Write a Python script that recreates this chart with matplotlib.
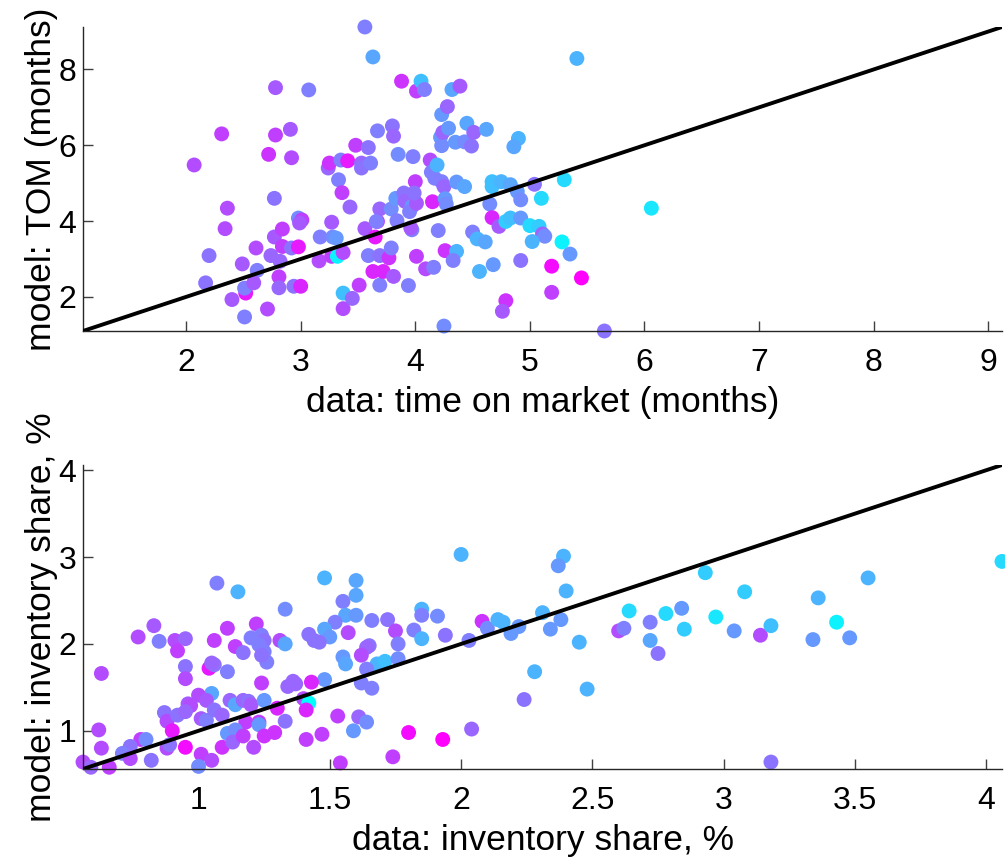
import numpy as np
import matplotlib
matplotlib.use('Agg')
import matplotlib.pyplot as plt

plt.rcParams['font.family'] = ['Liberation Sans', 'DejaVu Sans']

# time on market: data (x), model (y), colour value (0 = cyan, 1 = magenta)
tom_data = [2.07, 2.31, 2.36, 2.34, 2.20, 2.17, 2.40, 2.49, 2.52, 2.51, 2.51, 2.61, 2.62, 2.59, 2.71,
            2.72, 2.78, 2.78, 2.77, 2.77, 2.84, 2.74, 2.84, 2.82, 2.81, 2.81, 2.91, 2.92, 2.94, 3.00,
            2.92, 2.98, 2.98, 3.01, 2.99, 3.07, 3.16, 3.17, 3.24, 3.25, 3.27, 3.28, 3.31, 3.27, 3.32,
            3.37, 3.33, 3.35, 3.41, 3.36, 3.37, 3.37, 3.43, 3.45, 3.48, 3.51, 3.56, 3.53, 3.53, 3.59,
            3.61, 3.63, 3.56, 3.59, 3.63, 3.65, 3.69, 3.67, 3.66, 3.69, 3.69, 3.72, 3.67, 3.77, 3.79,
            3.81, 3.80, 3.81, 3.79, 3.83, 3.85, 3.88, 3.84, 3.90, 3.94, 3.91, 3.97, 3.95, 3.97, 3.96,
            3.98, 4.00, 4.01, 4.01, 3.99, 4.01, 4.05, 4.08, 4.09, 4.16, 4.13, 4.14, 4.15, 4.17, 4.19,
            4.20, 4.23, 4.22, 4.23, 4.25, 4.26, 4.23, 4.25, 4.28, 4.24, 4.29, 4.32, 4.39, 4.26, 4.27,
            4.36, 4.33, 4.35, 4.36, 4.43, 4.45, 4.43, 4.49, 4.51, 4.62, 4.50, 4.54, 4.61, 4.56, 4.68,
            4.65, 4.67, 4.73, 4.79, 4.83, 4.92, 4.67, 4.67, 4.75, 4.83, 4.89, 4.92, 4.90, 4.86, 5.04,
            5.30, 5.10, 5.00, 5.08, 5.11, 5.13, 5.02, 5.28, 5.35, 4.92, 5.19, 5.45, 5.19, 4.79, 4.76,
            5.65, 6.06, 5.41]
tom_model = [5.48, 6.30, 4.34, 3.80, 3.09, 2.37, 1.93, 2.87, 2.10, 2.23, 1.47, 3.29, 2.70, 2.37, 1.68,
             5.76, 7.52, 6.27, 4.60, 3.58, 3.79, 3.09, 3.33, 2.94, 2.53, 2.24, 6.42, 5.67, 2.28, 2.28,
             3.29, 3.32, 4.08, 4.03, 3.95, 7.46, 2.95, 3.58, 5.40, 5.53, 3.97, 3.58, 3.55, 3.07, 3.07,
             3.17, 5.09, 5.61, 5.59, 4.75, 1.69, 2.10, 4.37, 1.96, 6.00, 2.31, 9.12, 5.53, 5.40, 5.94,
             5.53, 8.33, 3.80, 3.09, 2.67, 3.58, 4.32, 3.99, 3.99, 3.09, 2.31, 2.67, 6.38, 3.03, 3.29,
             2.54, 6.51, 6.24, 4.32, 4.60, 5.76, 7.69, 4.01, 4.74, 2.30, 4.52, 4.38, 4.25, 3.77, 3.82,
             5.70, 5.04, 3.07, 4.47, 4.74, 7.43, 7.69, 7.47, 2.74, 2.78, 5.61, 5.29, 4.51, 5.13, 5.48,
             3.75, 6.81, 6.21, 5.99, 1.23, 3.22, 5.04, 4.91, 7.02, 6.34, 6.45, 7.47, 7.56, 4.59, 4.45,
             3.20, 2.96, 6.08, 5.03, 4.91, 6.58, 6.09, 5.98, 6.34, 6.42, 3.71, 3.53, 3.45, 2.67, 2.85,
             4.45, 4.09, 3.86, 3.99, 4.08, 4.08, 5.04, 4.91, 5.04, 4.96, 4.78, 4.56, 6.18, 5.96, 4.97,
             5.09, 4.60, 3.88, 3.86, 3.66, 3.60, 3.46, 3.45, 3.13, 2.96, 2.81, 2.50, 2.12, 1.90, 1.62,
             1.10, 4.34, 8.29]
tom_c = [0.70, 0.75, 0.70, 0.70, 0.55, 0.55, 0.65, 0.65, 0.90, 0.50, 0.50, 0.70, 0.50, 0.65, 0.70,
         0.80, 0.65, 0.75, 0.55, 0.65, 0.75, 0.60, 0.75, 0.60, 0.75, 0.60, 0.65, 0.70, 0.55, 0.85,
         0.55, 0.90, 0.45, 0.75, 0.65, 0.50, 0.70, 0.50, 0.60, 0.80, 0.65, 0.45, 0.40, 0.75, 0.05,
         0.70, 0.50, 0.50, 0.90, 0.75, 0.70, 0.25, 0.60, 0.60, 0.75, 0.75, 0.50, 0.60, 0.55, 0.55,
         0.50, 0.35, 0.65, 0.50, 0.85, 0.90, 0.60, 0.70, 0.50, 0.55, 0.50, 0.85, 0.50, 0.80, 0.50,
         0.65, 0.55, 0.60, 0.45, 0.40, 0.45, 0.80, 0.50, 0.55, 0.50, 0.60, 0.40, 0.50, 0.50, 0.65,
         0.50, 0.75, 0.75, 0.65, 0.55, 0.75, 0.25, 0.50, 0.70, 0.50, 0.70, 0.50, 0.85, 0.50, 0.30,
         0.50, 0.40, 0.40, 0.45, 0.45, 0.80, 0.50, 0.60, 0.60, 0.60, 0.40, 0.35, 0.65, 0.40, 0.45,
         0.30, 0.50, 0.40, 0.40, 0.35, 0.35, 0.45, 0.55, 0.60, 0.35, 0.50, 0.30, 0.35, 0.30, 0.40,
         0.45, 0.85, 0.65, 0.20, 0.25, 0.40, 0.25, 0.25, 0.30, 0.35, 0.40, 0.45, 0.30, 0.35, 0.55,
         0.15, 0.15, 0.15, 0.20, 0.60, 0.45, 0.30, 0.05, 0.40, 0.55, 0.95, 1.00, 0.75, 0.80, 0.65,
         0.55, 0.10, 0.30]

# inventory share: data (x), model (y), colour value
inv_data = [1.07, 1.15, 1.33, 0.83, 0.77, 0.85, 1.22, 1.11, 0.91, 0.95, 1.06, 0.92, 1.14, 1.17, 1.20,
            1.24, 1.25, 1.23, 1.25, 1.26, 1.24, 1.31, 1.33, 0.63, 0.95, 0.95, 1.04, 1.06, 1.11, 1.24,
            1.34, 1.36, 1.05, 1.00, 1.03, 0.96, 0.97, 0.87, 0.88, 0.92, 0.95, 1.01, 1.03, 1.06, 1.09,
            1.12, 1.14, 1.17, 1.19, 1.20, 1.25, 1.23, 1.18, 0.90, 0.62, 0.63, 0.78, 0.80, 0.74, 0.71,
            0.74, 0.82, 0.88, 0.89, 0.95, 1.01, 1.05, 1.09, 1.00, 1.11, 1.14, 1.13, 1.17, 1.21, 1.23,
            1.25, 1.29, 1.30, 1.33, 0.56, 0.59, 0.66, 1.05, 2.00, 1.48, 1.60, 1.60, 1.55, 1.56, 1.60,
            1.52, 1.48, 1.50, 1.42, 1.44, 1.46, 1.57, 1.66, 1.72, 1.75, 1.76, 1.85, 1.85, 1.91, 1.82,
            1.85, 1.94, 2.03, 2.08, 2.10, 2.14, 2.16, 2.19, 2.22, 1.65, 1.64, 1.62, 1.55, 1.56, 1.68,
            1.71, 1.76, 1.64, 1.62, 1.66, 1.48, 1.43, 1.37, 1.40, 1.42, 1.41, 1.53, 1.61, 1.64, 1.59,
            1.41, 1.47, 1.54, 1.74, 1.80, 1.93, 2.04, 2.24, 2.39, 2.37, 2.40, 2.31, 2.38, 2.34, 2.45,
            2.28, 2.48, 2.64, 2.60, 2.62, 2.72, 2.72, 2.75, 2.78, 2.84, 2.85, 2.93, 2.97, 3.04, 3.08,
            3.14, 3.18, 3.18, 3.34, 3.36, 3.43, 3.48, 3.55, 4.06]
inv_model = [2.70, 2.60, 2.40, 2.21, 2.08, 2.03, 2.23, 2.18, 2.04, 2.06, 2.04, 1.92, 1.97, 1.90, 2.07,
             2.10, 2.04, 1.99, 1.91, 1.79, 1.87, 2.04, 2.00, 1.66, 1.74, 1.60, 1.72, 1.76, 1.68, 1.55,
             1.51, 1.57, 1.43, 1.41, 1.35, 1.31, 1.29, 1.21, 1.11, 1.18, 1.22, 1.14, 1.12, 1.24, 1.18,
             1.35, 1.30, 1.35, 1.34, 1.30, 1.35, 1.10, 1.10, 1.00, 1.01, 0.80, 0.90, 0.90, 0.82, 0.74,
             0.68, 0.66, 0.80, 0.84, 0.81, 0.73, 0.66, 0.81, 0.59, 0.97, 1.01, 0.87, 0.94, 0.81, 1.07,
             0.94, 0.98, 1.26, 1.11, 0.64, 0.58, 0.58, 1.78, 3.03, 2.76, 2.73, 2.56, 2.49, 2.33, 2.33,
             2.25, 2.17, 2.08, 2.11, 2.04, 2.02, 2.13, 2.27, 2.28, 2.15, 2.00, 2.40, 2.33, 2.32, 2.16,
             2.06, 2.10, 2.04, 2.26, 2.18, 2.28, 2.25, 2.12, 2.20, 1.98, 1.96, 1.87, 1.85, 1.77, 1.77,
             1.80, 1.83, 1.71, 1.55, 1.49, 1.59, 1.56, 1.54, 1.37, 1.32, 1.24, 1.17, 1.16, 1.10, 1.00,
             0.90, 0.96, 0.63, 0.70, 0.98, 0.90, 1.02, 1.36, 3.01, 2.90, 2.61, 2.36, 2.28, 2.17, 2.02,
             1.68, 1.48, 2.38, 2.15, 2.18, 2.25, 2.04, 1.89, 2.35, 2.41, 2.17, 2.82, 2.31, 2.15, 2.60,
             2.10, 2.21, 0.64, 2.05, 2.53, 2.25, 2.07, 2.76, 2.95]
inv_c = [0.50, 0.30, 0.45, 0.65, 0.70, 0.50, 0.75, 0.75, 0.70, 0.60, 0.75, 0.75, 0.75, 0.55, 0.50,
         0.50, 0.55, 0.50, 0.50, 0.50, 0.55, 0.70, 0.35, 0.70, 0.55, 0.70, 0.90, 0.55, 0.50, 0.75,
         0.60, 0.60, 0.35, 0.70, 0.65, 0.65, 0.70, 0.55, 0.70, 0.55, 0.60, 0.65, 0.50, 0.55, 0.60,
         0.60, 0.35, 0.60, 0.55, 0.65, 0.40, 0.75, 0.75, 0.90, 0.70, 0.70, 0.75, 0.45, 0.55, 0.50,
         0.70, 0.55, 0.70, 0.55, 0.95, 0.75, 0.70, 0.80, 0.45, 0.40, 0.45, 0.60, 0.75, 0.70, 0.40,
         0.80, 0.80, 0.85, 0.55, 0.70, 0.60, 0.75, 0.60, 0.30, 0.30, 0.35, 0.35, 0.50, 0.35, 0.40,
         0.50, 0.35, 0.40, 0.55, 0.55, 0.55, 0.70, 0.50, 0.55, 0.70, 0.50, 0.30, 0.50, 0.45, 0.50,
         0.30, 0.55, 0.50, 0.80, 0.45, 0.30, 0.30, 0.40, 0.40, 0.55, 0.60, 0.70, 0.40, 0.35, 0.30,
         0.25, 0.45, 0.50, 0.50, 0.50, 0.40, 0.85, 0.60, 0.70, 0.00, 0.85, 0.75, 0.60, 0.45, 0.40,
         0.75, 0.75, 0.75, 0.75, 0.95, 1.00, 0.60, 0.55, 0.30, 0.40, 0.30, 0.30, 0.40, 0.40, 0.30,
         0.30, 0.30, 0.15, 0.70, 0.50, 0.50, 0.35, 0.55, 0.15, 0.40, 0.20, 0.20, 0.10, 0.40, 0.20,
         0.70, 0.25, 0.55, 0.40, 0.30, 0.05, 0.40, 0.30, 0.15]

W, H = 1005, 863


def panel(ax, x, y, c, xlabel, ylabel, xticks, yticks, xticklabels, yticklabels):
    x = np.array(x)
    y = np.array(y)
    lo = min(x.min(), y.min())
    hi = max(x.max(), y.max())
    ax.scatter(x, y, c=c, cmap='cool', vmin=0, vmax=1, s=115, linewidths=0, zorder=2, clip_on=False)
    # 45-degree line across the whole box
    ax.plot([lo, hi], [lo, hi], color='black', lw=2.8, zorder=3, solid_capstyle='butt')
    ax.set_xlim(lo, hi)
    ax.set_ylim(lo, hi)
    ax.set_xticks(xticks)
    ax.set_xticklabels(xticklabels)
    ax.set_yticks(yticks)
    ax.set_yticklabels(yticklabels)
    for s in ['top', 'right']:
        ax.spines[s].set_visible(False)
    for s in ['left', 'bottom']:
        ax.spines[s].set_color('#262626')
        ax.spines[s].set_linewidth(1.0)
    ax.tick_params(direction='in', length=7, width=1, color='#404040', labelsize=23)
    ax.tick_params(axis='x', pad=12)
    ax.tick_params(axis='y', pad=5)
    ax.set_xlabel(xlabel, fontsize=25.5, labelpad=6)
    ax.set_ylabel(ylabel, fontsize=25.5, labelpad=0)


fig = plt.figure(figsize=(W / 100, H / 100), dpi=100)
ax1 = fig.add_axes([83 / W, 1 - 331 / H, (1002 - 83) / W, (331 - 27) / H])
ax2 = fig.add_axes([83 / W, 1 - 769 / H, (1002 - 83) / W, (769 - 465) / H])

panel(ax1, tom_data, tom_model, tom_c,
      'data: time on market (months)', 'model: TOM (months)',
      [2, 3, 4, 5, 6, 7, 8, 9], [2, 4, 6, 8],
      ['2', '3', '4', '5', '6', '7', '8', '9'], ['2', '4', '6', '8'])
panel(ax2, inv_data, inv_model, inv_c,
      'data: inventory share, %', 'model: inventory share, %',
      [1, 1.5, 2, 2.5, 3, 3.5, 4], [1, 2, 3, 4],
      ['1', '1.5', '2', '2.5', '3', '3.5', '4'], ['1', '2', '3', '4'])

fig.savefig('out.png', dpi=100)
